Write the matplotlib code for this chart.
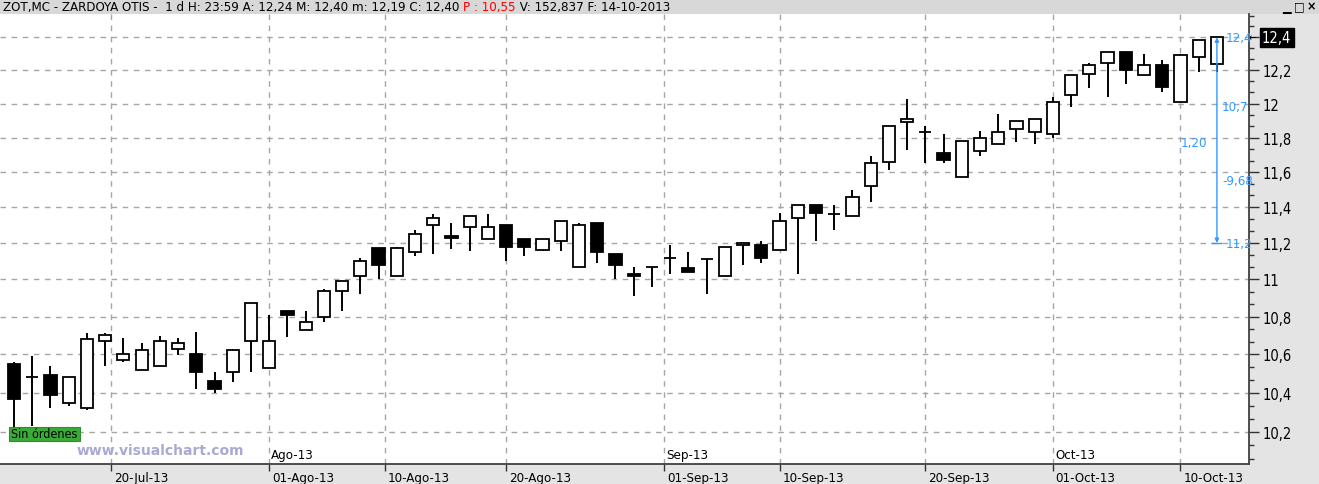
import numpy as np
import pandas as pd
import matplotlib
matplotlib.use('Agg')
import matplotlib.pyplot as plt
import matplotlib.transforms as mtransforms
from matplotlib.patches import Rectangle
from matplotlib.ticker import FixedLocator, NullFormatter
from matplotlib import font_manager

# narrow font, close to the bitmap font of the original
cond = font_manager.findfont(font_manager.FontProperties(family='DejaVu Sans', stretch='condensed'))
if 'Condensed' in cond:
    plt.rcParams['font.family'] = ['DejaVu Sans']
    plt.rcParams['font.stretch'] = 'condensed'
else:
    plt.rcParams['font.family'] = ['Liberation Sans', 'DejaVu Sans']
FS = 9.5

# daily OHLC, ZOT.MC 12-Jul-2013 .. 14-Oct-2013
opens = [10.55, 10.48, 10.49, 10.35, 10.32, 10.67, 10.57, 10.52, 10.54, 10.63,
         10.60, 10.46, 10.51, 10.67, 10.53, 10.83, 10.73, 10.80, 10.94, 11.02,
         11.17, 11.02, 11.15, 11.30, 11.24, 11.29, 11.22, 11.30, 11.22, 11.16,
         11.21, 11.07, 11.31, 11.14, 11.03, 11.07, 11.12, 11.06, 11.11, 11.02,
         11.19, 11.19, 11.16, 11.34, 11.41, 11.36, 11.35, 11.52, 11.66, 11.89,
         11.83, 11.71, 11.57, 11.72, 11.76, 11.85, 11.83, 11.82, 12.05, 12.18,
         12.245, 12.31, 12.17, 12.23, 12.01, 12.28, 12.24]
highs = [10.56, 10.59, 10.54, 10.48, 10.71, 10.71, 10.685, 10.66, 10.695, 10.685,
         10.72, 10.51, 10.63, 10.87, 10.81, 10.83, 10.83, 10.95, 10.99, 11.12,
         11.17, 11.18, 11.27, 11.36, 11.31, 11.35, 11.36, 11.30, 11.22, 11.22,
         11.32, 11.31, 11.31, 11.14, 11.07, 11.07, 11.19, 11.15, 11.11, 11.18,
         11.20, 11.21, 11.37, 11.41, 11.41, 11.41, 11.50, 11.69, 11.87, 12.03,
         11.87, 11.82, 11.78, 11.84, 11.94, 11.90, 11.91, 12.04, 12.17, 12.245,
         12.31, 12.31, 12.30, 12.26, 12.30, 12.385, 12.40]
lows = [10.22, 10.23, 10.32, 10.33, 10.31, 10.54, 10.56, 10.52, 10.54, 10.595,
        10.42, 10.40, 10.455, 10.51, 10.53, 10.69, 10.73, 10.77, 10.83, 10.92,
        11.00, 11.02, 11.13, 11.14, 11.165, 11.155, 11.22, 11.10, 11.13, 11.155,
        11.155, 11.07, 11.09, 11.00, 10.91, 10.96, 11.03, 11.04, 10.92, 11.02,
        11.08, 11.09, 11.16, 11.03, 11.21, 11.27, 11.35, 11.43, 11.615, 11.725,
        11.655, 11.655, 11.57, 11.695, 11.76, 11.775, 11.76, 11.80, 11.98, 12.095,
        12.04, 12.115, 12.17, 12.07, 12.01, 12.19, 12.19]
closes = [10.37, 10.48, 10.39, 10.48, 10.68, 10.70, 10.60, 10.62, 10.67, 10.66,
          10.51, 10.42, 10.62, 10.87, 10.67, 10.81, 10.77, 10.94, 10.99, 11.10,
          11.08, 11.17, 11.25, 11.34, 11.23, 11.35, 11.29, 11.18, 11.18, 11.22,
          11.32, 11.30, 11.15, 11.08, 11.02, 11.07, 11.12, 11.04, 11.11, 11.18,
          11.20, 11.12, 11.32, 11.41, 11.365, 11.36, 11.46, 11.65, 11.87, 11.91,
          11.83, 11.67, 11.78, 11.80, 11.83, 11.90, 11.91, 12.01, 12.17, 12.23,
          12.31, 12.20, 12.23, 12.10, 12.29, 12.385, 12.40]

date_ticks = ['2013-07-20', '2013-08-01', '2013-08-10', '2013-08-20', '2013-09-01',
              '2013-09-10', '2013-09-20', '2013-10-01', '2013-10-10']
date_labels = ['20-Jul-13', '01-Ago-13', '10-Ago-13', '20-Ago-13', '01-Sep-13',
               '10-Sep-13', '20-Sep-13', '01-Oct-13', '10-Oct-13']
month_ticks = ['2013-08-01', '2013-09-01', '2013-10-01']
month_labels = ['Ago-13', 'Sep-13', 'Oct-13']
price_ticks = [10.2, 10.4, 10.6, 10.8, 11.0, 11.2, 11.4, 11.6, 11.8, 12.0, 12.2, 12.4]

header_left = 'ZOT,MC - ZARDOYA OTIS -  1 d H: 23:59 A: 12,24 M: 12,40 m: 12,19 C: 12,40 '
header_red = 'P : 10,55'
header_right = ' V: 152,837 F: 14-10-2013'

# trading days -> bar index; calendar dates placed in between
days = pd.bdate_range('2013-07-12', '2013-10-14')
idx = np.arange(len(days))
day_ns = days.values.astype('int64')
tick_pos = np.interp(pd.to_datetime(date_ticks).values.astype('int64'), day_ns, idx)
month_pos = np.interp(pd.to_datetime(month_ticks).values.astype('int64'), day_ns, idx)

o = np.array(opens); h = np.array(highs); l = np.array(lows); c = np.array(closes)

W, H = 1319, 485
fig = plt.figure(figsize=(W / 100, H / 100), dpi=100, facecolor='#e4e4e4')
ax = fig.add_axes([0, 20 / H, 1249 / W, 450 / H])
ax.set_facecolor('white')

# header bar
fig.add_artist(Rectangle((0, 1 - 15 / H), 1, 15 / H, transform=fig.transFigure,
                         facecolor='#d8d8d8', edgecolor='none', zorder=0))

# candles
up = c >= o
ax.vlines(idx, l, h, color='black', lw=1.4, zorder=2)
bottoms = np.minimum(o, c)
heights = np.abs(c - o)
ax.bar(idx, heights, bottom=bottoms, width=0.67,
       color=np.where(up, 'white', 'black'), edgecolor='black', lw=1.3, zorder=3)

ax.set_yscale('log')
ax.set_xlim(-0.77, 67.76)
ax.set_ylim(10.04, 12.544)

# y axis on the right
ax.yaxis.tick_right()
ax.set_yticks(price_ticks)
ax.set_yticklabels(['' if v == 12.4 else f'{v:g}'.replace('.', ',') for v in price_ticks])
minor = [v for v in np.arange(10.0, 12.6, 0.2 / 3) if 10.04 < v < 12.54]
ax.yaxis.set_minor_locator(FixedLocator(minor))
ax.yaxis.set_minor_formatter(NullFormatter())
ax.tick_params(axis='y', which='major', length=7, width=1, color='#333333',
               pad=3, labelsize=FS + 1, labelcolor='black')
ax.tick_params(axis='y', which='minor', length=3.5, width=1, color='#333333')

# x axis: dates below, months inside
ax.set_xticks(tick_pos)
ax.set_xticklabels(date_labels)
ax.set_xticks(month_pos, minor=True)
ax.tick_params(axis='x', which='major', direction='out', length=5, width=1,
               color='#333333', pad=0, labelsize=FS)
ax.tick_params(axis='x', which='minor', direction='in', length=10, width=1,
               color='#333333')
shift = mtransforms.ScaledTranslation(2 / 72, 0, fig.dpi_scale_trans)
for lab in ax.get_xticklabels():
    lab.set_horizontalalignment('left')
    lab.set_transform(lab.get_transform() + shift)
for p, m in zip(month_pos, month_labels):
    ax.annotate(m, xy=(p, 0), xycoords=('data', 'axes fraction'),
                xytext=(2, 3), textcoords='offset pixels', ha='left', va='bottom',
                fontsize=FS)

ax.grid(True, which='major', color='#a6a6a6', lw=1, ls=(0, (4, 4)))
ax.set_axisbelow(True)
for s in ['top', 'left']:
    ax.spines[s].set_visible(False)
for s in ['right', 'bottom']:
    ax.spines[s].set_color('#404040')
    ax.spines[s].set_linewidth(1.3)

# last price marker
ax.annotate(f'{closes[-1]:g}'.replace('.', ','), xy=(1, closes[-1]),
            xycoords=('axes fraction', 'data'), xytext=(13, 0),
            textcoords='offset pixels', ha='left', va='center', color='white',
            fontsize=FS + 1, annotation_clip=False,
            bbox=dict(boxstyle='square,pad=0.15', fc='black', ec='black'))
ax.annotate('\u2190', xy=(1, closes[-1]), xycoords=('axes fraction', 'data'),
            xytext=(0, 0), textcoords='offset pixels', ha='left', va='center',
            fontsize=7, family='DejaVu Sans', annotation_clip=False)

# measuring tool (blue)
blue = '#3399ff'
top_p, bot_p = max(h), 11.2
xm = idx[-1]
ax.annotate('', xy=(xm, top_p), xytext=(xm, bot_p),
            arrowprops=dict(arrowstyle='<|-|>', color=blue, lw=1,
                            mutation_scale=6, shrinkA=0, shrinkB=0), zorder=5)
ax.hlines([bot_p], xm - 0.3, xm + 0.3, color=blue, lw=1, zorder=5)
diff = top_p - bot_p
up_pct = (top_p / bot_p - 1) * 100
dn_pct = (bot_p / top_p - 1) * 100
blue_labels = [(f'{top_p:g}'.replace('.', ','), top_p, 9, 'left'),
               (f'{up_pct:.1f}'.replace('.', ','), 11.98, 5, 'left'),
               (f'{diff:.2f}'.replace('.', ','), 11.77, -10, 'right'),
               (f'{dn_pct:.2f}'.replace('.', ','), 11.55, 5, 'left'),
               (f'{bot_p:g}'.replace('.', ','), bot_p, 9, 'left')]
for txt, yv, dx, ha in blue_labels:
    ax.annotate(txt, xy=(xm, yv), xytext=(dx, 0), textcoords='offset pixels',
                ha=ha, va='center', color=blue, fontsize=FS, annotation_clip=False,
                zorder=6)

# header text, black / red / black
fig.canvas.draw()
rend = fig.canvas.get_renderer()
x0 = 3
for txt, col in [(header_left, 'black'), (header_red, 'red'), (header_right, 'black')]:
    t = fig.text(x0 / W, 1 - 8 / H, txt, color=col, fontsize=FS, ha='left',
                 va='center')
    x0 = t.get_window_extent(rend).x1

# window buttons
for xb, sym in [(1286, '\u2581'), (1299, '\u25a1'), (1311, '\u00d7')]:
    fig.text(xb / W, 1 - 7 / H, sym, fontsize=9, ha='center', va='center',
             family='DejaVu Sans', fontweight='bold')

# "Sin órdenes" tag and watermark
fig.add_artist(Rectangle((9 / W, (H - 442) / H), 71 / W, 14 / H,
                         transform=fig.transFigure, facecolor='#3aab37',
                         edgecolor='#2b8f2b', lw=0.8, zorder=5))
fig.text(44.5 / W, (H - 435) / H, 'Sin órdenes', fontsize=FS - 0.5, ha='center',
         va='center', zorder=6)
fig.text(77 / W, (H - 451) / H, 'www.visualchart.com', fontsize=10,
         fontweight='bold', family='DejaVu Sans', stretch='normal', color='#a9a9d4',
         ha='left', va='center', zorder=6)

fig.savefig('out.png', dpi=100, facecolor=fig.get_facecolor())
